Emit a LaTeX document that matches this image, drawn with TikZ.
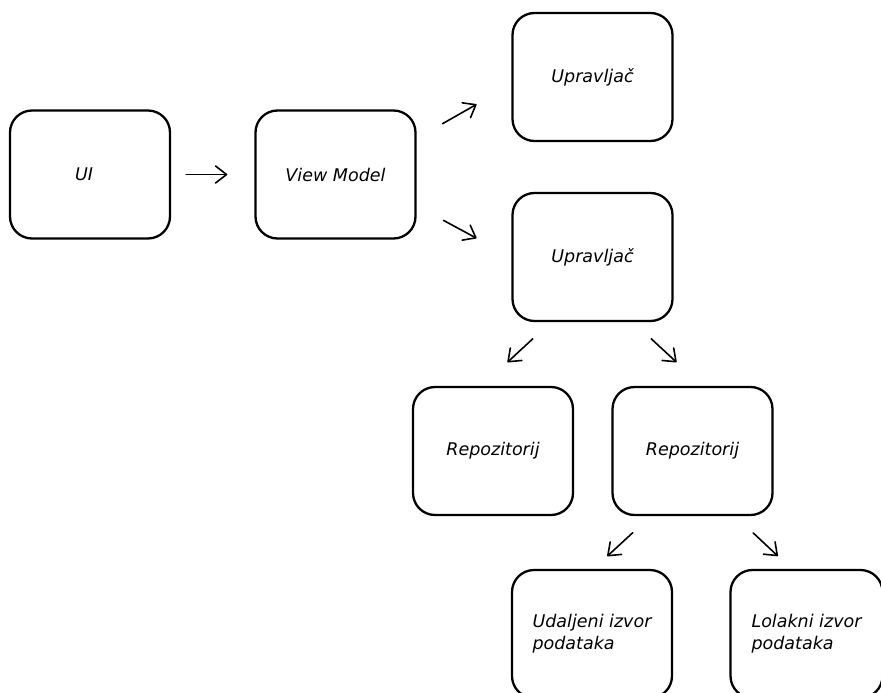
\documentclass[tikz,border=0pt]{standalone}
\usepackage{fontspec}
\setmainfont{DejaVu Sans}[ItalicFont={DejaVu Sans Oblique}]
\usetikzlibrary{arrows.meta,calc,positioning}

\begin{document}
\begin{tikzpicture}[x=1pt, y=-1pt,
  box/.style={draw, line width=2.3pt, rounded corners=22pt,
    minimum width=160pt, minimum height=128pt, align=left,
    font=\itshape\fontsize{17.5}{22}\selectfont},
  arr/.style={line width=1.6pt, line cap=round,
    -{Straight Barb[length=11pt,width=17pt,round]}}]

  \useasboundingbox (0,0) rectangle (881,693);
  \clip (0,0) rectangle (881,693);

  \node [box] (ui) at (90,174.5) {UI\hspace*{12pt}};
  \node [box] (vm) at (335.5,174.5) {View Model};
  \node [box] (up1) at (592.5,77) {Upravljač};
  \node [box] (up2) at (592.5,257) {Upravljač};
  \node [box] (rep1) at (493,451) {Repozitorij};
  \node [box] (rep2) at (692.5,451) {Repozitorij};
  \node [box] (src1) at (592,634) {Udaljeni izvor\\podataka};
  \node [box, minimum width=152pt] (src2) at (806.5,634) {Lolakni izvor\\podataka};

  % short free-standing arrows between the boxes
  \draw [arr, shorten <=15pt, shorten >=27pt] (ui.east) -- (vm.west);

  \draw [arr, shorten <=29.7pt, shorten >=40pt]
    ($(vm.east)+(0,-36.1)$) -- ($(up1.west)+(0,7.6)$);

  \draw [arr, shorten <=30.5pt, shorten >=39.5pt]
    ($(vm.east)+(0,31.4)$) -- (up2.west);

  \draw [arr, shorten <=24.5pt, shorten >=34.7pt]
    ($(up2.south)+(-41.8,0)$) -- ($(rep1.north)+(-11,0)$);

  \draw [arr, shorten <=24.5pt, shorten >=34.7pt]
    ($(up2.south)+(40.8,0)$) -- ($(rep2.north)+(9.5,0)$);

  \draw [arr, shorten <=24.5pt, shorten >=18.7pt]
    ($(rep2.south)+(-41.8,0)$) -- ($(src1.north)+(1.5,0)$);

  \draw [arr, shorten <=24.5pt, shorten >=18.7pt]
    ($(rep2.south)+(42.8,0)$) -- ($(src2.north)+(-15,0)$);

\end{tikzpicture}
\end{document}
